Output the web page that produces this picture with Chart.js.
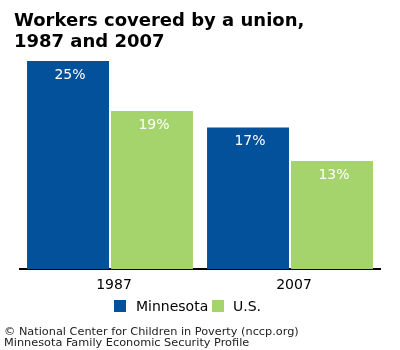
<!DOCTYPE html>
<html>
<head>
<meta charset="utf-8">
<script src="https://cdn.jsdelivr.net/npm/chart.js@4"></script>
<style>
html,body{margin:0;padding:0;background:#fff;}
#wrap{position:relative;width:400px;height:350px;overflow:hidden;font-family:"DejaVu Sans",sans-serif;}
#c{position:absolute;left:0;top:0;}
#title{position:absolute;left:14px;top:9px;font-weight:bold;font-size:18px;line-height:21px;color:#000;white-space:nowrap;}
#foot{position:absolute;left:4px;top:326px;font-size:11.3px;line-height:11px;color:#222;white-space:nowrap;}
.lg{position:absolute;}
.box{width:12px;height:12px;top:300px;}
.lt{top:297px;font-size:14px;line-height:18px;color:#000;white-space:nowrap;}
</style>
</head>
<body>
<div id="wrap">
<canvas id="c" width="400" height="350"></canvas>
<div id="title">Workers covered by a union,<br>1987 and 2007</div>
<div id="legend"></div>
<div id="foot">© National Center for Children in Poverty (nccp.org)<br>Minnesota Family Economic Security Profile</div>
</div>
<script>
const categories = ["1987", "2007"];
const minnesota = [25, 17];
const us = [19, 13];
const seriesNames = ["Minnesota", "U.S."];
const seriesColors = ["#03519A", "#A5D46C"];

// HTML legend built from the series names/colours
const legendPos = [[114, 136], [212, 233]];
const lg = document.getElementById('legend');
seriesNames.forEach((n, i) => {
  const b = document.createElement('div');
  b.className = 'lg box';
  b.style.left = legendPos[i][0] + 'px';
  b.style.background = seriesColors[i];
  lg.appendChild(b);
  const t = document.createElement('div');
  t.className = 'lg lt';
  t.style.left = legendPos[i][1] + 'px';
  t.textContent = n;
  lg.appendChild(t);
});

const valueLabels = {
  id: 'valueLabels',
  afterDatasetsDraw(chart) {
    const ctx = chart.ctx;
    ctx.save();
    ctx.fillStyle = '#fff';
    ctx.font = '14px "DejaVu Sans"';
    ctx.textAlign = 'center';
    ctx.textBaseline = 'top';
    chart.data.datasets.forEach((ds, i) => {
      chart.getDatasetMeta(i).data.forEach((el, j) => {
        ctx.fillText(ds.data[j] + '%', el.x + 2, el.y + 7);
      });
    });
    ctx.restore();
  }
};

new Chart(document.getElementById('c'), {
  type: 'bar',
  data: {
    labels: categories,
    datasets: [
      { label: seriesNames[0], data: minnesota, backgroundColor: seriesColors[0], categoryPercentage: 0.933, barPercentage: 0.976 },
      { label: seriesNames[1], data: us, backgroundColor: seriesColors[1], categoryPercentage: 0.933, barPercentage: 0.976 }
    ]
  },
  options: {
    responsive: false,
    animation: false,
    layout: { padding: { top: 61, left: 20, right: 20, bottom: 56 } },
    plugins: {
      title: { display: false },
      tooltip: { enabled: false },
      legend: { display: false }
    },
    scales: {
      x: {
        grid: { display: false },
        border: { display: true, color: '#000', width: 2 },
        ticks: { color: '#000', padding: 0, labelOffset: 4, font: { family: 'DejaVu Sans', size: 14 } }
      },
      y: {
        display: false,
        min: 0, max: 25
      }
    }
  },
  plugins: [valueLabels]
});
</script>
</body>
</html>
